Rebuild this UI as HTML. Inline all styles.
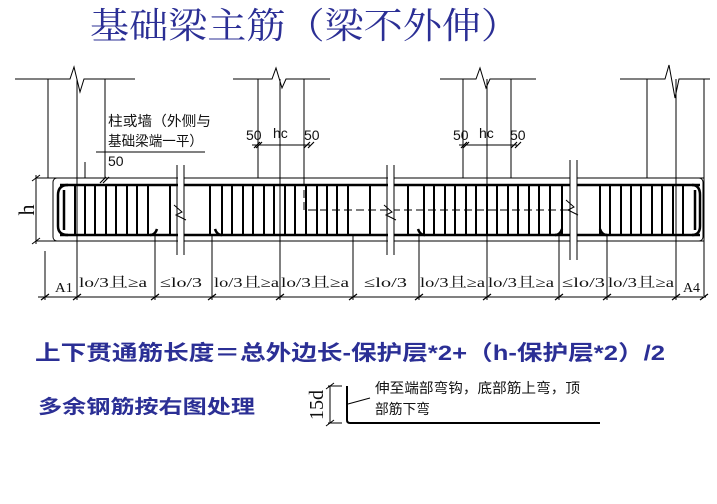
<!DOCTYPE html>
<html><head><meta charset="utf-8"><style>
html,body{margin:0;padding:0;background:#fff;width:717px;height:504px;overflow:hidden}
svg{display:block}
.c{font-family:"Liberation Sans","Noto Sans CJK SC",sans-serif;fill:#111}
.s{font-family:"Liberation Serif","Noto Serif CJK SC",serif;fill:#111}
</style></head><body>
<svg width="717" height="504" viewBox="0 0 717 504" xmlns="http://www.w3.org/2000/svg">
<text x="90" y="38" textLength="430" lengthAdjust="spacingAndGlyphs" font-family="Liberation Serif,'Noto Serif CJK SC',serif" font-size="36" fill="#2b2f95">基础梁主筋（梁不外伸）</text>
<g stroke="#000" stroke-width="1" fill="none">
<path d="M15 79H70L74 67L80 92L84 79H135"/>
<path d="M233 79H272L276 68L282 88L286 79H330"/>
<path d="M440 79H476L480 68L486 88L490 79H536"/>
<path d="M620 79H665L669 65L675 98L679 79H710"/>
<path d="M48 79V178M105 79V178M258 79V178M304 79V178M463 79V178M511 79V178M647 79V178M704 79V296"/>
<path d="M36 178H704M36 241H704"/>
<path d="M36 175V244"/>
<rect x="53" y="178" width="650" height="63" rx="4"/>
<path d="M38 297H706"/>
<path d="M45 251V300M77 79V300M155 235V300M212 235V300M280 79V300M353 235V300M419 235V300M487 79V300M559 235V300M607 235V300M676 79V300"/>
<path d="M252 145H310M459 145H517M96 152H205M85 162V178"/>
</g>
<g stroke="#000" stroke-width="1.2">
<path d="M41 300L49 294M73 300L81 294M151 300L159 294M208 300L216 294M276 300L284 294M349 300L357 294M415 300L423 294M483 300L491 294M555 300L563 294M603 300L611 294M672 300L680 294M700 300L708 294M254 148L260 142M256 148L262 142M304 148L310 142M308 148L314 142M461 148L467 142M463 148L469 142M511 148L517 142M515 148L521 142M100 183L106 177M103 183L109 177"/>
</g>
<g stroke="#000" stroke-width="1" stroke-dasharray="8,4" fill="none">
<path d="M77 95V178M280 95V178M487 95V178M676 95V178"/>
<path d="M77 178H155M304 178V210H570M647 178H700"/>
</g>
<g stroke="#000" stroke-width="2.5" fill="none">
<path d="M60 185H700M60 235H700"/>
<path d="M68 185Q58 185 58 195V226Q58 235 68 235"/>
<path d="M692 185Q700 185 700 195V226Q700 235 692 235"/>
<path d="M64 190V230M695 190V230"/>
<path d="M150 235Q155 235 157 229M215 229Q217 235 222 235M418 229Q420 235 425 235M555 235Q560 235 562 229M600 229Q602 235 607 235"/>
</g>
<g stroke="#000" stroke-width="2">
<path d="M75 185V235M85 185V235M95 185V235M106 185V235M116 185V235M127 185V235M137 185V235M148 185V235M170 185V235M210 185V235M222 185V235M232 185V235M243 185V235M253 185V235M264 185V235M274 185V235M285 185V235M295 185V235M306 185V235M317 185V235M327 185V235M337 185V235M348 185V235M370 185V235M408 185V235M424 185V235M434 185V235M445 185V235M455 185V235M466 185V235M476 185V235M487 185V235M497 185V235M508 185V235M518 185V235M529 185V235M539 185V235M550 185V235M562 185V235M600 185V235M610 185V235M621 185V235M631 185V235M641 185V235M652 185V235M662 185V235M673 185V235M683 185V235"/>
</g>
<g fill="#fff" stroke="none"><rect x="178" y="165" width="6" height="90"/><rect x="388" y="165" width="6" height="90"/><rect x="570" y="160" width="7" height="100"/></g>
<g stroke="#000" stroke-width="1" fill="none">
<path d="M177 165V255M184 165V255M387 165V255M394 165V255M570 160V260M577 160V260"/>
<path d="M174 205L182 212L176 215L186 220M384 205L392 212L386 215L396 220M566 200L574 207L568 210L578 215"/>
</g>
<g stroke="#000" stroke-width="1"><path d="M36 178V241M32 181L40 175M32 244L40 238"/></g>
<text class="s" style="font-size:22px" transform="translate(34 210) rotate(-90)" text-anchor="middle">h</text>
<text class="c" x="108" y="126" style="font-size:14px" textLength="103" lengthAdjust="spacingAndGlyphs">柱或墙（外侧与</text>
<text class="c" x="108" y="146" style="font-size:14px" textLength="95" lengthAdjust="spacingAndGlyphs">基础梁端一平）</text>
<text class="c" x="108" y="166" style="font-size:14px">50</text>
<g class="c" style="font-size:14px">
<text x="246" y="140">50</text><text x="273" y="138">hc</text><text x="304" y="140">50</text>
<text x="453" y="140">50</text><text x="479" y="138">hc</text><text x="510" y="140">50</text>
</g>
<g class="s" style="font-size:14px">
<text x="55" y="292" textLength="18" lengthAdjust="spacingAndGlyphs">A1</text>
<text x="79" y="287" textLength="68" lengthAdjust="spacingAndGlyphs">lo/3且≥a</text>
<text x="160" y="287" textLength="42" lengthAdjust="spacingAndGlyphs">≤lo/3</text>
<text x="214" y="287" textLength="65" lengthAdjust="spacingAndGlyphs">lo/3且≥a</text>
<text x="281" y="287" textLength="68" lengthAdjust="spacingAndGlyphs">lo/3且≥a</text>
<text x="364" y="287" textLength="43" lengthAdjust="spacingAndGlyphs">≤lo/3</text>
<text x="420" y="287" textLength="65" lengthAdjust="spacingAndGlyphs">lo/3且≥a</text>
<text x="488" y="287" textLength="66" lengthAdjust="spacingAndGlyphs">lo/3且≥a</text>
<text x="562" y="287" textLength="43" lengthAdjust="spacingAndGlyphs">≤lo/3</text>
<text x="608" y="287" textLength="66" lengthAdjust="spacingAndGlyphs">lo/3且≥a</text>
<text x="683" y="292" textLength="17" lengthAdjust="spacingAndGlyphs">A4</text>
</g>
<text x="35" y="360" textLength="630" lengthAdjust="spacingAndGlyphs" font-family="Liberation Sans,'Noto Sans CJK SC',sans-serif" font-size="21" font-weight="bold" fill="#2b2f95">上下贯通筋长度＝总外边长-保护层*2+（h-保护层*2）/2</text>
<text x="38" y="413" textLength="217" lengthAdjust="spacingAndGlyphs" font-family="Liberation Sans,'Noto Sans CJK SC',sans-serif" font-size="19" font-weight="bold" fill="#2b2f95">多余钢筋按右图处理</text>
<g stroke="#000" fill="none">
<path d="M330 386V423M326 389L334 383M326 426L334 420M328 386H342M328 423H342" stroke-width="1"/>
<path d="M347 386V420Q347 423 350 423H600" stroke-width="2"/>
<path d="M348 404L370 398" stroke-width="1"/>
</g>
<text class="s" style="font-size:20px" transform="translate(323 405) rotate(-90)" text-anchor="middle">15d</text>
<text class="c" x="375" y="393" style="font-size:14px" textLength="205" lengthAdjust="spacingAndGlyphs">伸至端部弯钩，底部筋上弯，顶</text>
<text class="c" x="375" y="414" style="font-size:14px" textLength="55" lengthAdjust="spacingAndGlyphs">部筋下弯</text>
</svg>
</body></html>
